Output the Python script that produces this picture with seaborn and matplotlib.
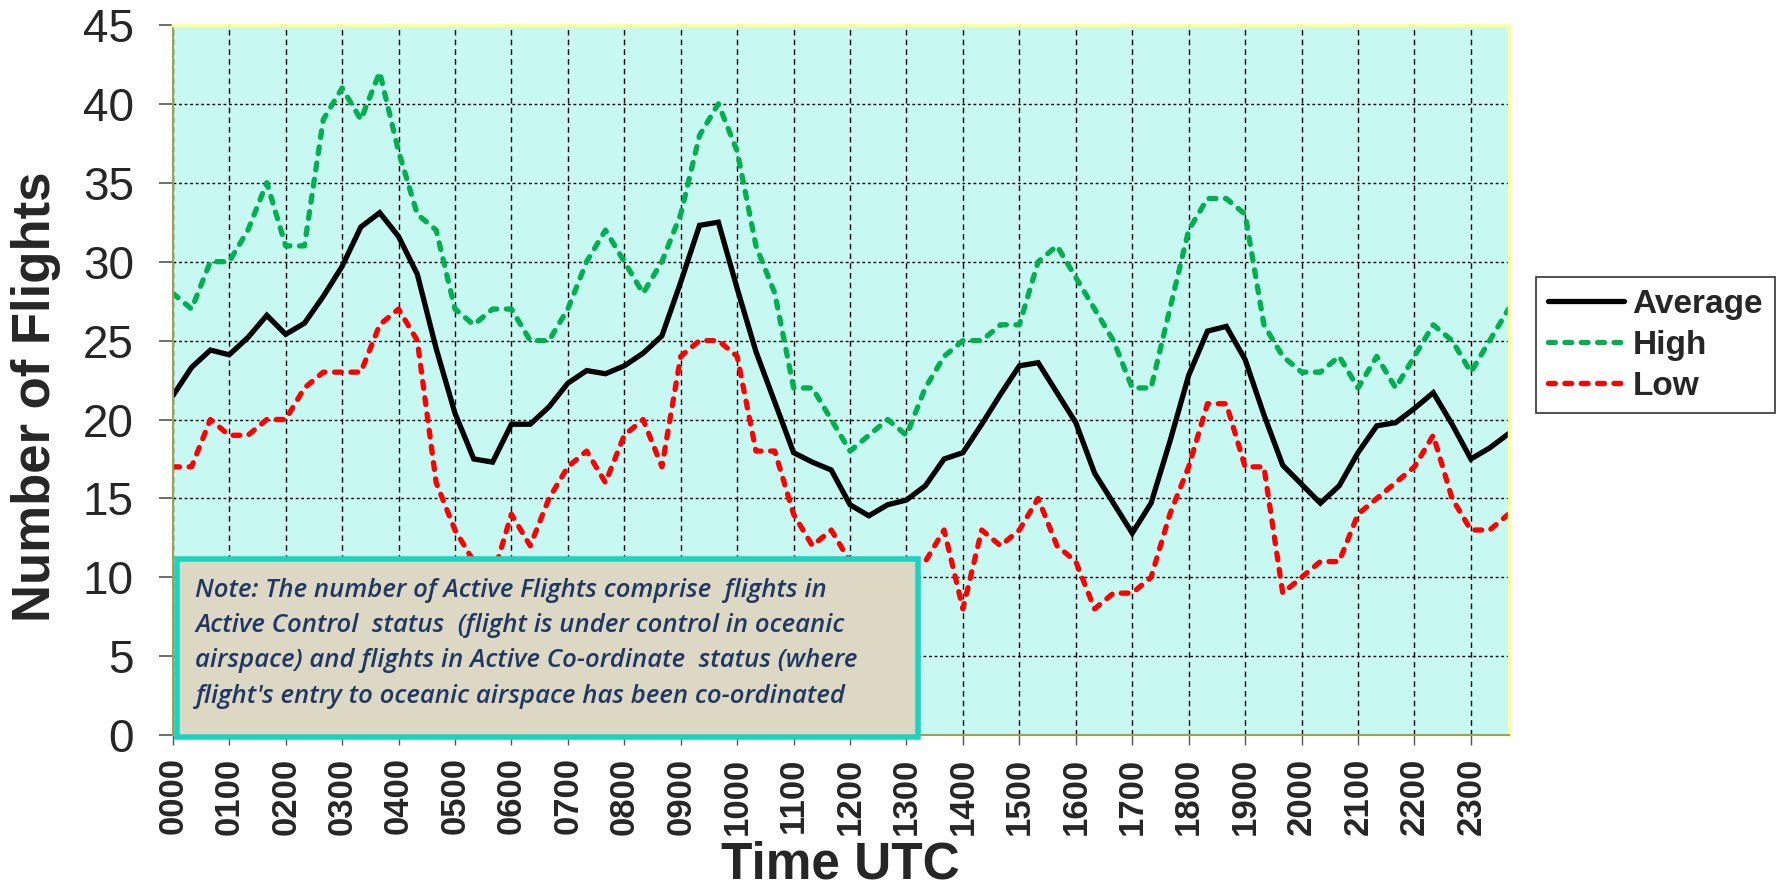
import numpy as np
import pandas as pd
import matplotlib
matplotlib.use("Agg")
import matplotlib.pyplot as plt
import seaborn as sns
from matplotlib.patches import Rectangle

# -------------------
# Data: 20-minute slots from 0000 to 2340 UTC
hour_labels = [f"{h:02d}00" for h in range(24)]

average = [21.5, 23.3, 24.4, 24.1, 25.2, 26.6, 25.4, 26.1, 27.8, 29.7, 32.2, 33.1,
           31.6, 29.2, 24.5, 20.4, 17.5, 17.3, 19.7, 19.7, 20.8, 22.3, 23.1, 22.9,
           23.4, 24.2, 25.3, 28.7, 32.3, 32.5, 28.3, 24.3, 21.1, 17.9, 17.3, 16.8,
           14.6, 13.9, 14.6, 14.9, 15.8, 17.5, 17.9, 19.7, 21.6, 23.4, 23.6, 21.7,
           19.8, 16.6, 14.7, 12.8, 14.7, 18.6, 22.8, 25.6, 25.9, 23.8, 20.3, 17.1,
           15.9, 14.7, 15.8, 17.9, 19.6, 19.8, 20.7, 21.7, 19.7, 17.5, 18.2, 19.1]

high = [28, 27, 30, 30, 32, 35, 31, 31, 39, 41, 39, 42,
        37, 33, 32, 27, 26, 27, 27, 25, 25, 27, 30, 32,
        30, 28, 30, 33, 38, 40, 37, 31, 28, 22, 22, 20,
        18, 19, 20, 19, 22, 24, 25, 25, 26, 26, 30, 31,
        29, 27, 25, 22, 22, 27, 32, 34, 34, 33, 26, 24,
        23, 23, 24, 22, 24, 22, 24, 26, 25, 23, 25, 27]

low = [17, 17, 20, 19, 19, 20, 20, 22, 23, 23, 23, 26,
       27, 25, 16, 13, 11, 10, 14, 12, 15, 17, 18, 16,
       19, 20, 17, 24, 25, 25, 24, 18, 18, 14, 12, 13,
       11, 11, 11, 11, 11, 13, 8, 13, 12, 13, 15, 12,
       11, 8, 9, 9, 10, 14, 17, 21, 21, 17, 17, 9,
       10, 11, 11, 14, 15, 16, 17, 19, 15, 13, 13, 14]

note_text = ("Note: The number of Active Flights comprise  flights in\n"
             "Active Control  status  (flight is under control in oceanic\n"
             "airspace) and flights in Active Co-ordinate  status (where\n"
             "flight's entry to oceanic airspace has been co-ordinated")

slot = np.arange(len(average))
df = pd.DataFrame({"slot": slot, "Average": average, "High": high, "Low": low})

# -------------------
# Plot
sns.set_style("white")
plt.rcParams["font.family"] = ["Liberation Sans", "DejaVu Sans"]

fig = plt.figure(figsize=(17.81, 8.89), dpi=100)
ax = fig.add_axes([0.097, 0.173, 0.750, 0.799])
ax.set_facecolor("#C8F8F2")

dash = (0, (1.3, 1.8))
sns.lineplot(data=df, x="slot", y="Average", ax=ax, color="black", lw=3.8,
             label="Average", solid_joinstyle="miter")
sns.lineplot(data=df, x="slot", y="High", ax=ax, color="#00B050", lw=3.8,
             linestyle=dash, dash_capstyle="round", label="High")
sns.lineplot(data=df, x="slot", y="Low", ax=ax, color="#FF0000", lw=3.8,
             linestyle=dash, dash_capstyle="round", label="Low")

ax.set_xlim(0, len(average) - 1)
ax.set_ylim(0, 45)
ax.set_yticks(np.arange(0, 46, 5))
ax.set_xticks(np.arange(0, len(average), 3))
ax.set_xticklabels(hour_labels, rotation=90, fontsize=25, fontweight="bold")
ax.tick_params(axis="y", labelsize=33, length=10, width=1.2, color="#555555", pad=18, left=True)
ax.tick_params(axis="x", length=7, width=1, color="#555555", pad=9, bottom=True)

ax.grid(True, axis="y", color="black", linestyle=(0, (2, 2)), lw=1)
ax.grid(True, axis="x", color="black", linestyle=(0, (4, 3)), lw=1)

for side in ["top", "right"]:
    ax.spines[side].set_color("#FFFF99")
    ax.spines[side].set_linewidth(2.5)
for side in ["left", "bottom"]:
    ax.spines[side].set_color("#A0A050")
    ax.spines[side].set_linewidth(1.5)

ax.set_xlabel("Time UTC", fontsize=37, fontweight="bold", labelpad=4)
ax.set_ylabel("Number of Flights", fontsize=38, fontweight="bold")
ax.yaxis.set_label_coords(-0.0836, 0.477)

# note box
box = Rectangle((0.003, -0.002), 0.555, 0.25, transform=ax.transAxes,
                facecolor="#DDD8C4", edgecolor="#1ED2C0", lw=4, zorder=5, clip_on=False)
ax.add_patch(box)
ax.text(0.017, 0.222, note_text, transform=ax.transAxes, ha="left", va="top",
        fontsize=18.5, style="italic", fontweight="semibold", color="#1F3864",
        family="Open Sans", linespacing=1.55, zorder=6)

leg = ax.legend(loc="upper left", bbox_to_anchor=(1536 / 1781, 1 - 277 / 889),
                bbox_transform=fig.transFigure, frameon=True, fancybox=False,
                edgecolor="black", prop={"weight": "bold", "size": 24},
                handlelength=2.3, handletextpad=0.25, labelspacing=0.3,
                borderpad=0.35, borderaxespad=0)
leg.get_frame().set_linewidth(1.2)

fig.savefig("out.png", dpi=100)
